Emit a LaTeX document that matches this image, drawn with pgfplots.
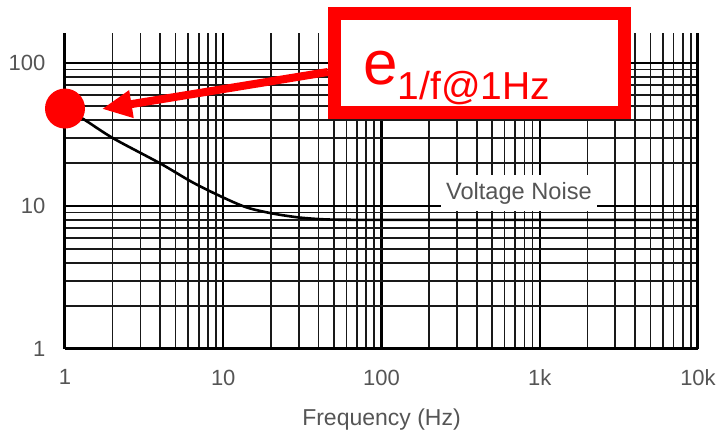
\documentclass[border=0pt]{standalone}
\usepackage{pgfplots}
\pgfplotsset{compat=1.18}
\usepackage{fontspec}
\setmainfont{Liberation Sans}
\usetikzlibrary{arrows.meta}
\definecolor{labelgray}{RGB}{85,85,85}

\begin{document}
\begin{tikzpicture}
\useasboundingbox (-32.5pt,-44.5pt) rectangle (327pt,174.5pt);
\begin{axis}[
    scale only axis, width=316.5pt, height=158pt,
    xmode=log, ymode=log,
    xmin=1, xmax=10000, ymin=1, ymax=162,
    xtick={1,10,100,1000,10000}, xticklabels={1,10,100,1k,10k},
    ytick={1,10,100}, yticklabels={1,10,100},
    grid=both,
    major grid style={black, line width=1.05pt},
    minor grid style={black!90, line width=0.85pt},
    major tick length=0pt, minor tick length=0pt,
    axis x line*=bottom, axis y line*=box,
    axis line style={black, line width=1.5pt},
    ticklabel style={font=\fontsize{11}{13}\selectfont, text=labelgray},
    xticklabel style={yshift=-6.8pt},
    yticklabel style={xshift=-6.3pt},
    xlabel={Frequency (Hz)},
    xlabel style={font=\fontsize{11.5}{13}\selectfont, text=labelgray,
        at={(rel axis cs:0.5,0)}, anchor=center, yshift=-35.5pt},
    clip=false,
    /pgf/number format/assume math mode=true,
]
% voltage noise curve
\addplot[black, line width=1.3pt, smooth] coordinates {
    (1,47) (1.28,41.1) (2.01,29.8) (3.98,19.9) (6.42,14.6) (9.93,11.5)
    (14.1,9.76) (20.5,8.86) (30.4,8.3) (45,8.05) (70,8.0) (100,8.0)
    (1000,8.0) (10000,8.0)
};
\node[fill=white, inner xsep=2.5pt, minimum height=15pt, text=labelgray,
    font=\fontsize{11.8}{13}\selectfont] at (axis cs:739,12.3) {Voltage Noise};
% red annotation
\draw[red, line width=4pt, -{Triangle[length=15pt,width=13pt]}]
    (axis cs:45.9,86.5) -- (axis cs:1.71,47.7);
\draw[red, line width=6.5pt, fill=white]
    (axis cs:50.5,222) rectangle (axis cs:3436,45.1);
\node[anchor=base west, inner sep=0pt, text=red] at (axis cs:76.4,70.2)
    {\fontsize{31}{31}\selectfont e\raisebox{-7.5pt}{\fontsize{19.5}{20}\selectfont 1/f@1Hz}};
\fill[red] (axis cs:1,48) circle[radius=10pt];
\end{axis}
\end{tikzpicture}
\end{document}
